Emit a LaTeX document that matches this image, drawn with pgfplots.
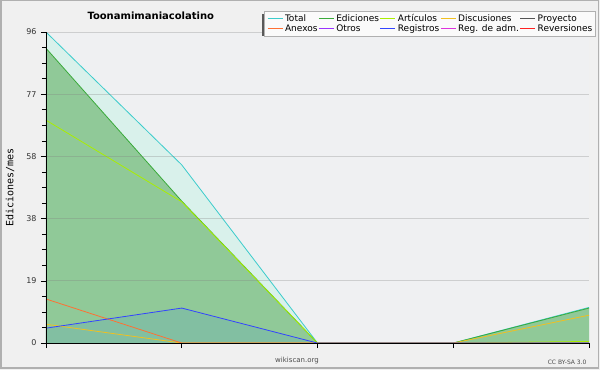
\documentclass[border=0pt]{standalone}
\usepackage{fontspec}
\setmainfont{DejaVu Sans}
\newfontfamily\monofont{DejaVu Sans Mono}
\usepackage{pgfplots}
\pgfplotsset{compat=1.18}
\definecolor{bgc}{HTML}{F0F0F0}
\definecolor{plotbg}{HTML}{EFF0F2}
\definecolor{framec}{HTML}{B0B0B0}
\definecolor{ctotal}{HTML}{3CCCCC}
\definecolor{ftotal}{HTML}{D9F1EB}
\definecolor{cedic}{HTML}{3AAA3A}
\definecolor{fedic}{HTML}{90C998}
\definecolor{cart}{HTML}{AAEE00}
\definecolor{cdisc}{HTML}{F0C020}
\definecolor{cproy}{HTML}{555555}
\definecolor{canex}{HTML}{FF7033}
\definecolor{cotros}{HTML}{9933FF}
\definecolor{creg}{HTML}{3344FF}
\definecolor{freg}{HTML}{82BFA2}
\definecolor{cadm}{HTML}{DD33DD}
\definecolor{crev}{HTML}{FF2222}
\begin{document}
\begin{tikzpicture}
\fill[bgc] (0,0) rectangle (600pt,370pt);
\draw[framec, line width=1.5pt] (1pt,2pt) rectangle (598.5pt,369.3pt);
\begin{axis}[
  at={(46pt,27pt)}, anchor=south west,
  scale only axis, width=543pt, height=311pt,
  xmin=0, xmax=4, ymin=0, ymax=96,
  axis background/.style={fill=plotbg},
  axis x line*=bottom, axis y line*=left,
  x axis line style={-, black, line width=0.8pt},
  y axis line style={-, black, line width=0.8pt},
  axis on top,
  xtick={0,1,2,3,4}, xticklabels={},
  ytick={0,19.2,38.4,57.6,76.8,96},
  yticklabels={0,19,38,58,77,96},
  minor y tick num=3,
  tick align=outside,
  major tick length=5pt, minor tick length=4pt,
  tick style={black, line width=0.7pt},
  ymajorgrids,
  major grid style={gray, opacity=0.3, line width=0.8pt},
  /pgf/number format/assume math mode=true,
  yticklabel style={font=\fontsize{8}{8}\selectfont, text=black!80, xshift=-1pt},
  ylabel={Ediciones/mes},
  ylabel style={at={(axis description cs:-0.0663,0.5)}, anchor=center, font=\monofont\fontsize{10}{10}\selectfont},
  title={Toonamimaniacolatino},
  every axis title shift=0pt,
  title style={at={(axis description cs:0.193,1.0514)}, anchor=center, font=\bfseries\fontsize{10}{10}\selectfont},
  legend columns=5,
  legend cell align=left,
  legend image code/.code={\draw[#1, line width=0.8pt] (0pt,0pt) -- (15pt,0pt);},
  legend style={name=leg, at={(axis description cs:0.4015,1.0675)}, anchor=north west,
    draw=framec, fill=white!70!bgc, inner sep=3pt, row sep=1pt,
    font=\fontsize{9}{9}\selectfont,
    nodes={inner sep=0pt, text height=7pt, text depth=2pt},
    /tikz/every odd column/.append style={column sep=2pt},
    /tikz/every even column/.append style={column sep=1pt}},
]
% fills
\addplot[fill=ftotal, draw=none, forget plot] coordinates {(0,96) (1,55) (2,0) (3,0) (4,11)} \closedcycle;
\addplot[fill=fedic, draw=none, forget plot] coordinates {(0,91) (1,43.8) (2,0) (3,0) (4,10.8)} \closedcycle;
\addplot[fill=freg, draw=none, forget plot] coordinates {(0,4.6) (1,10.8) (2,0) (3,0) (4,0)} \closedcycle;
% lines
\addplot[ctotal, line width=0.8pt] coordinates {(0,96) (1,55) (2,0) (3,0) (4,11)};
\addlegendentry{Total}
\addplot[cedic, line width=0.8pt] coordinates {(0,91) (1,43.8) (2,0) (3,0) (4,10.8)};
\addlegendentry{Ediciones}
\addplot[cart, line width=0.8pt] coordinates {(0,68.8) (1,43.6) (2,0) (3,0) (4,0.5)};
\addlegendentry{Artículos}
\addplot[cdisc, line width=0.8pt] coordinates {(0,5.8) (1,0) (2,0) (3,0) (4,8.6)};
\addlegendentry{Discusiones}
\addplot[cproy, line width=0.8pt] coordinates {(0,0) (1,0) (2,0) (3,0) (4,0)};
\addlegendentry{Proyecto}
\addplot[canex, line width=0.8pt] coordinates {(0,13.6) (1,0) (2,0) (3,0) (4,0)};
\addlegendentry{Anexos}
\addplot[cotros, line width=0.8pt] coordinates {(0,0) (1,0) (2,0) (3,0) (4,0)};
\addlegendentry{Otros}
\addplot[creg, line width=0.8pt] coordinates {(0,4.6) (1,10.8) (2,0) (3,0) (4,0)};
\addlegendentry{Registros}
\addplot[cadm, line width=0.8pt] coordinates {(0,0) (1,0) (2,0) (3,0) (4,0)};
\addlegendentry{Reg. de adm.}
\addplot[crev, line width=0.8pt] coordinates {(0,0) (1,0) (2,0) (3,0) (4,0)};
\addlegendentry{Reversiones}
\end{axis}
\draw[black!65, line width=2pt] ([xshift=-1pt,yshift=-3pt]leg.north west) -- ([xshift=-1pt]leg.south west);
\node[font=\fontsize{7}{7}\selectfont, text=black!70] at (297pt,9pt) {wikiscan.org};
\node[font=\fontsize{6}{6}\selectfont, text=black!70, anchor=east] at (590pt,8pt) {CC BY-SA 3.0};
\end{tikzpicture}
\end{document}
